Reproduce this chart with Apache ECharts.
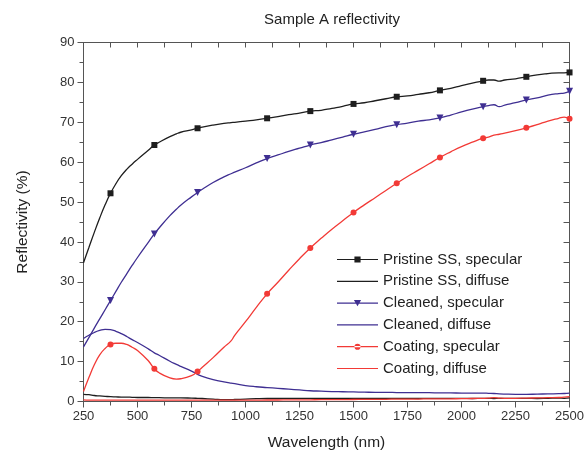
<!DOCTYPE html>
<html>
<head>
<meta charset="utf-8">
<script src="https://cdn.jsdelivr.net/npm/echarts@6/dist/echarts.min.js"></script>
<style>
html,body{margin:0;padding:0;background:#fff;}
#chart{width:587px;height:457px;}
</style>
</head>
<body>
<div id="chart"></div>
<script>
// Wavelength sampling (nm)
var wavelength = [250,275,300,325,350,375,400,425,450,475,500,550,578,600,650,680,700,750,778,800,850,900,933,950,1000,1050,1100,1150,1200,1250,1300,1350,1400,1450,1500,1550,1600,1650,1700,1750,1800,1850,1900,1950,2000,2050,2100,2125,2150,2175,2200,2250,2300,2350,2400,2450,2475,2500];

// Wavelengths at which markers are drawn on the specular curves
var markerWavelengths = [375,578,778,1100,1300,1500,1700,1900,2100,2300,2500];

var pristineSpecular = [34.8,38.6,42.4,46.0,49.3,52.2,54.6,56.6,58.2,59.5,60.7,63.0,64.3,65.0,66.4,67.1,67.5,68.1,68.5,68.8,69.3,69.7,69.9,70.0,70.3,70.6,71.0,71.4,71.9,72.3,72.8,73.0,73.5,74.0,74.6,74.9,75.4,75.9,76.4,76.6,77.0,77.4,78.0,78.5,79.2,79.8,80.4,80.6,80.6,80.3,80.6,80.9,81.4,81.9,82.2,82.4,82.4,82.5];

var pristineDiffuse = [1.8,1.7,1.5,1.4,1.3,1.2,1.15,1.1,1.1,1.05,1.0,1.0,0.95,0.95,0.9,0.9,0.9,0.85,0.8,0.75,0.6,0.45,0.45,0.5,0.6,0.7,0.75,0.75,0.8,0.8,0.8,0.8,0.75,0.8,0.8,0.8,0.75,0.8,0.8,0.8,0.75,0.8,0.8,0.8,0.8,0.75,0.8,0.8,0.75,0.8,0.8,0.8,0.8,0.75,0.8,0.85,0.8,0.9];

var cleanedSpecular = [13.7,16.0,18.4,20.7,23.0,25.3,27.6,29.9,32.0,34.1,36.1,39.9,42.0,43.5,46.6,48.2,49.2,51.3,52.4,53.2,54.9,56.3,57.1,57.5,58.6,59.8,60.9,61.8,62.7,63.5,64.3,64.9,65.6,66.3,67.0,67.6,68.2,68.9,69.4,69.8,70.3,70.6,71.1,71.8,72.6,73.3,73.9,74.2,74.4,73.9,74.3,74.9,75.6,76.1,76.8,77.2,77.3,77.8];

var cleanedDiffuse = [15.8,16.6,17.3,17.8,18.1,18.0,17.6,17.0,16.3,15.5,14.8,13.2,12.2,11.6,10.1,9.3,8.8,7.6,6.8,6.3,5.5,4.9,4.6,4.5,4.0,3.7,3.5,3.3,3.1,2.9,2.7,2.6,2.5,2.45,2.4,2.35,2.3,2.3,2.25,2.2,2.2,2.2,2.15,2.15,2.1,2.1,2.1,2.05,2.0,1.9,1.85,1.8,1.8,1.85,1.9,1.95,2.0,2.1];

var coatingSpecular = [2.5,6.0,9.2,11.7,13.3,14.3,14.6,14.6,14.3,13.6,12.8,10.2,8.2,7.2,5.9,5.6,5.7,6.5,7.5,8.6,11.0,13.6,15.2,16.6,20.0,23.6,27.0,29.9,32.9,35.8,38.5,40.9,43.2,45.3,47.4,49.3,51.1,52.9,54.7,56.4,58.0,59.6,61.2,62.6,63.9,65.0,66.0,66.3,66.8,67.0,67.3,67.9,68.6,69.4,70.3,71.0,71.3,70.9];

var coatingDiffuse = [0.4,0.35,0.35,0.35,0.35,0.35,0.35,0.35,0.35,0.35,0.35,0.35,0.35,0.35,0.35,0.35,0.35,0.35,0.35,0.35,0.35,0.35,0.35,0.35,0.35,0.35,0.38,0.38,0.4,0.4,0.42,0.45,0.45,0.48,0.5,0.52,0.55,0.55,0.6,0.6,0.62,0.65,0.65,0.68,0.7,0.75,0.8,0.85,0.95,0.85,0.8,0.8,0.85,0.9,0.95,1.0,1.1,1.2];

var seriesNames = ['Pristine SS, specular','Pristine SS, diffuse','Cleaned, specular','Cleaned, diffuse','Coating, specular','Coating, diffuse'];

var xTicks = {min:250, max:2500, interval:250};
var yTicks = {min:0, max:90, interval:10};

function pairs(vals){ return wavelength.map(function(w,i){ return [w, vals[i]]; }); }
function markerSize(size){
  return function(v){ return markerWavelengths.indexOf(v[0]) >= 0 ? size : 0; };
}

var BLACK = '#1e1e1e', PURPLE = '#3f2f92', RED = '#f23a36';
var FONT = 'Liberation Sans, Arial, sans-serif';

var chart = echarts.init(document.getElementById('chart'), null, {renderer:'canvas'});
var axisColor = '#555';
var labelStyle = {color:'#333', fontSize:13, fontFamily:FONT};

function lineSeries(name, vals, color, symbol, size, rotate){
  return {
    name: name, type:'line', data: pairs(vals),
    xAxisIndex:0, yAxisIndex:0,
    symbol: symbol || 'none',
    symbolSize: symbol ? markerSize(size) : 0,
    symbolRotate: rotate || 0,
    showSymbol: !!symbol, showAllSymbol: true,
    smooth: 0.5,
    lineStyle:{color:color, width:1.3},
    itemStyle:{color:color, borderWidth:0},
    emphasis:{disabled:true},
    z: 3
  };
}

var option = {
  animation:false,
  backgroundColor:'#fff',
  title:{
    text:'Sample A reflectivity', left:327, top:7, textAlign:'center',
    textStyle:{fontSize:15, fontWeight:'normal', color:'#222', fontFamily:FONT}
  },
  grid:{left:83.5, right:15.5, top:42.5, bottom:55.5},
  legend:{
    orient:'vertical', left:337, top:252, padding:0,
    itemWidth:41, itemHeight:14, itemGap:6.8,
    textStyle:{fontSize:15, color:'#222', fontFamily:FONT},
    itemStyle:{borderWidth:0},
    data:[
      {name:seriesNames[0], icon:'path://M0,6.4H40V7.6H0Z M17,4H23V10H17Z'},
      {name:seriesNames[1], icon:'path://M0,6.4H40V7.6H0Z'},
      {name:seriesNames[2], icon:'path://M0,6.4H40V7.6H0Z M16.5,4H23.5L20,10Z'},
      {name:seriesNames[3], icon:'path://M0,6.4H40V7.6H0Z'},
      {name:seriesNames[4], icon:'path://M0,6.4H40V7.6H0Z M17,7A3,3 0 1,0 23,7A3,3 0 1,0 17,7Z'},
      {name:seriesNames[5], icon:'path://M0,6.4H40V7.6H0Z'}
    ]
  },
  xAxis:[
    {
      type:'value', position:'bottom', min:xTicks.min, max:xTicks.max, interval:xTicks.interval,
      name:'Wavelength (nm)', nameLocation:'middle', nameGap:33,
      nameTextStyle:{fontSize:15.5, color:'#222', fontFamily:FONT},
      axisLine:{show:true, lineStyle:{color:axisColor, width:1}},
      axisTick:{show:true, inside:false, length:6, lineStyle:{color:axisColor}},
      minorTick:{show:true, splitNumber:2, length:4, lineStyle:{color:axisColor}},
      axisLabel:Object.assign({margin:8, formatter:function(v){ return String(v); }}, labelStyle),
      splitLine:{show:false}
    },
    {
      type:'value', position:'top', min:xTicks.min, max:xTicks.max, interval:xTicks.interval/2,
      axisLine:{show:true, onZero:false, lineStyle:{color:axisColor, width:1}},
      axisTick:{show:true, inside:true, length:5, lineStyle:{color:axisColor}},
      axisLabel:{show:false}, splitLine:{show:false}
    }
  ],
  yAxis:[
    {
      type:'value', position:'left', min:yTicks.min, max:yTicks.max, interval:yTicks.interval,
      name:'Reflectivity (%)', nameLocation:'middle', nameGap:53,
      nameTextStyle:{fontSize:15.5, color:'#222', fontFamily:FONT},
      axisLine:{show:true, lineStyle:{color:axisColor, width:1}},
      axisTick:{show:true, inside:false, length:6, lineStyle:{color:axisColor}},
      minorTick:{show:true, splitNumber:2, length:4, lineStyle:{color:axisColor}},
      axisLabel:Object.assign({margin:9}, labelStyle),
      splitLine:{show:false}
    },
    {
      type:'value', position:'right', min:yTicks.min, max:yTicks.max, interval:yTicks.interval/2,
      axisLine:{show:true, onZero:false, lineStyle:{color:axisColor, width:1}},
      axisTick:{show:true, inside:true, length:6, lineStyle:{color:axisColor}},
      axisLabel:{show:false}, splitLine:{show:false}
    }
  ],
  series:[
    lineSeries(seriesNames[0], pristineSpecular, BLACK, 'rect', 6),
    lineSeries(seriesNames[1], pristineDiffuse, BLACK),
    lineSeries(seriesNames[2], cleanedSpecular, PURPLE, 'triangle', 7, 180),
    lineSeries(seriesNames[3], cleanedDiffuse, PURPLE),
    lineSeries(seriesNames[4], coatingSpecular, RED, 'circle', 6),
    lineSeries(seriesNames[5], coatingDiffuse, RED)
  ]
};
chart.setOption(option);
</script>
</body>
</html>
